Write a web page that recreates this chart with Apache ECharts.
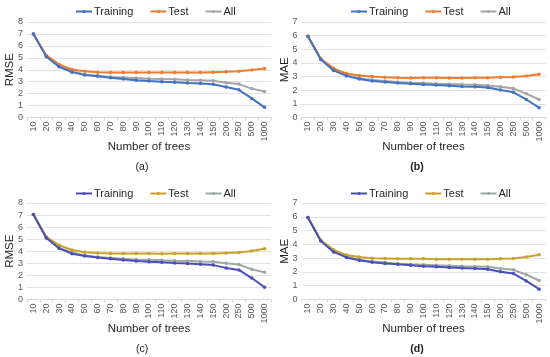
<!DOCTYPE html>
<html><head><meta charset="utf-8">
<script src="https://cdn.jsdelivr.net/npm/echarts@6/dist/echarts.min.js"></script>
<style>html,body{margin:0;padding:0;background:#fff}#c{width:550px;height:357px}</style>
</head><body><div id="c"></div>
<script>
const categories = ['10','20','30','40','50','60','70','80','90','100','110','120','130','140','150','200','250','500','1000'];
const seriesNames = ['Training','Test','All'];

const aTraining = [7.0,5.1,4.25,3.8,3.55,3.45,3.33,3.22,3.12,3.05,3.0,2.95,2.88,2.85,2.78,2.55,2.32,1.6,0.85];
const aTest     = [7.0,5.2,4.45,4.02,3.88,3.8,3.77,3.77,3.77,3.77,3.77,3.77,3.77,3.77,3.8,3.83,3.88,3.98,4.1];
const aAll      = [7.0,5.15,4.25,3.88,3.6,3.5,3.4,3.35,3.3,3.25,3.22,3.2,3.15,3.12,3.08,2.92,2.8,2.42,2.17];

const bTraining = [5.95,4.25,3.45,3.05,2.82,2.68,2.6,2.52,2.47,2.42,2.38,2.33,2.28,2.25,2.2,2.02,1.85,1.32,0.72];
const bTest     = [5.95,4.3,3.6,3.22,3.08,3.0,2.95,2.92,2.9,2.92,2.92,2.9,2.9,2.92,2.92,2.95,2.97,3.05,3.17];
const bAll      = [5.95,4.28,3.48,3.1,2.88,2.75,2.68,2.6,2.55,2.52,2.48,2.45,2.42,2.4,2.35,2.25,2.12,1.75,1.32];

const cTraining = [7.05,5.1,4.25,3.8,3.6,3.48,3.38,3.28,3.2,3.12,3.08,3.02,2.98,2.92,2.85,2.62,2.45,1.78,1.02];
const cTest     = [7.05,5.2,4.5,4.1,3.92,3.85,3.82,3.82,3.82,3.82,3.8,3.82,3.82,3.82,3.82,3.85,3.9,4.02,4.2];
const cAll      = [7.05,5.15,4.25,3.9,3.65,3.52,3.45,3.38,3.32,3.3,3.25,3.22,3.2,3.15,3.12,3.0,2.9,2.5,2.25];

const dTraining = [5.95,4.25,3.45,3.05,2.85,2.7,2.62,2.55,2.48,2.42,2.38,2.33,2.28,2.25,2.2,2.02,1.88,1.35,0.75];
const dTest     = [5.95,4.3,3.6,3.22,3.08,3.0,2.98,2.95,2.95,2.95,2.92,2.92,2.92,2.92,2.92,2.95,2.98,3.08,3.25];
const dAll      = [5.95,4.28,3.48,3.1,2.88,2.75,2.68,2.6,2.55,2.52,2.48,2.45,2.42,2.4,2.38,2.25,2.15,1.8,1.38];

const yNames = ['RMSE','MAE','RMSE','MAE'];
const yMax = [8,7,8,7];
const panelLabels = ['(a)','(b)','(c)','(d)'];

const panels = [
  {data:[aTraining,aTest,aAll], colors:['#4472C4','#ED7D31','#A5A5A5']},
  {data:[bTraining,bTest,bAll], colors:['#4472C4','#ED7D31','#A5A5A5']},
  {data:[cTraining,cTest,cAll], colors:['#4B4FB9','#C9A22C','#9DA8A3']},
  {data:[dTraining,dTest,dAll], colors:['#4B4FB9','#C9A22C','#9DA8A3']}
];
const layout = [
  {left:27, top:22, h:95.5, lx:70, ly:1, tx:137, ty:157},
  {left:301.5, top:22, h:95.5, lx:345, ly:1, tx:412, ty:157},
  {left:27, top:203, h:96.5, lx:70, ly:183, tx:137, ty:339},
  {left:301.5, top:203, h:96.5, lx:345, ly:183, tx:412, ty:339}
];
const font = 'Liberation Sans, Arial, sans-serif';
const grid=[], xAxis=[], yAxis=[], series=[], legend=[], title=[];
panels.forEach((p,i)=>{
  const L = layout[i];
  grid.push({left:L.left, top:L.top, width:244, height:L.h});
  xAxis.push({type:'category', gridIndex:i, data:categories, boundaryGap:true,
    axisLine:{lineStyle:{color:'#d9d9d9'}}, axisTick:{show:true, length:3, lineStyle:{color:'#d9d9d9'}},
    axisLabel:{rotate:90, fontSize:9, color:'#595959', margin:4, interval:0, fontFamily:font},
    name:'Number of trees', nameLocation:'middle', nameGap:23, nameMoveOverlap:false,
    nameTextStyle:{fontSize:11.5, color:'#262626', fontFamily:font}});
  yAxis.push({type:'value', gridIndex:i, min:0, max:yMax[i], interval:1,
    axisLine:{show:false}, axisTick:{show:false},
    splitLine:{lineStyle:{color:'#e3e3e3'}},
    axisLabel:{fontSize:9, color:'#595959', margin:4, fontFamily:font},
    name:yNames[i], nameLocation:'middle', nameGap:11, nameMoveOverlap:false,
    nameTextStyle:{fontSize:11.5, color:'#262626', fontFamily:font}});
  const names = [];
  p.data.forEach((d,k)=>{
    const nm = seriesNames[k] + (i? ' '.repeat(i):'');
    names.push(nm);
    series.push({type:'line', name:nm, xAxisIndex:i, yAxisIndex:i, data:d,
      symbol:'circle', symbolSize:3.5, showSymbol:true,
      lineStyle:{width:2, color:p.colors[k]}, itemStyle:{color:p.colors[k]},
      z: k===0?4:(k===1?3:2)});
  });
  legend.push({data:names, left:L.lx, top:L.ly, itemWidth:16, itemHeight:4, itemGap:16,
    formatter:(n)=>n.trim(),
    textStyle:{fontSize:11, color:'#262626', fontFamily:font, padding:[0,0,0,-3]}});
  title.push({text:panelLabels[i], left:L.tx, top:L.ty, textAlign:'center',
    textStyle:{fontSize:10.5, fontWeight:(i%2)?'bold':'normal', color:'#222', fontFamily:font}});
});
const chart = echarts.init(document.getElementById('c'), null, {renderer:'canvas'});
chart.setOption({animation:false, backgroundColor:'#fff', grid, xAxis, yAxis, series, legend, title});
</script></body></html>
